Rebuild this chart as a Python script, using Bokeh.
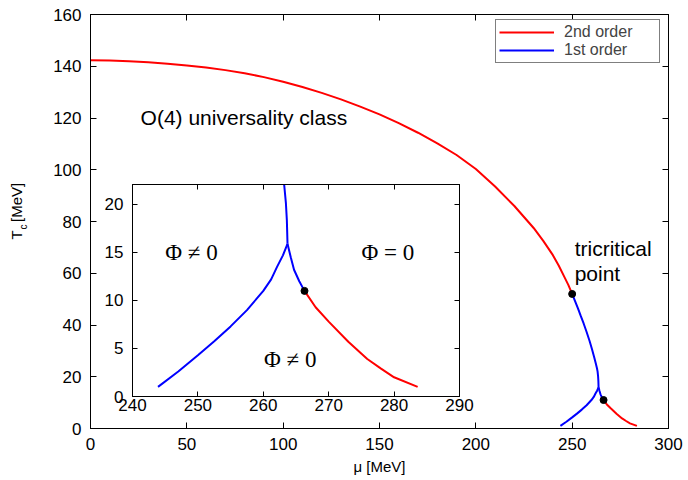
from bokeh.plotting import figure
from bokeh.models import (LinearAxis, FixedTicker, Legend, LegendItem, GridBox)
from bokeh.core.properties import value
from bokeh.embed import file_html
from bokeh.resources import INLINE

# ---------------- data ----------------
# 2nd-order line, high-T part (mu [MeV], T_c [MeV])
red_hi_mu = [0, 10, 20, 30, 40, 50, 60, 70, 80, 90, 100, 110, 120, 130, 140, 150, 160, 170, 180,
             190, 200, 210, 220, 230, 235, 240, 243, 246, 248, 250]
red_hi_T = [142.3, 142.2, 141.9, 141.5, 141.0, 140.3, 139.5, 138.5, 137.3, 135.8, 134.0, 132.0,
            129.7, 127.2, 124.4, 121.4, 118.0, 114.3, 110.2, 105.7, 100.3, 93.5, 86.0, 77.5,
            72.5, 67.0, 63.0, 58.5, 55.5, 52.0]

# 1st-order line from tricritical point down to the cusp
blue_up_mu = [250.0, 251.5, 253.0, 254.5, 256.0, 257.5, 259.0, 260.3, 261.4, 262.3, 262.9, 263.2,
              263.45, 263.6, 263.65, 263.7]
blue_up_T = [52.0, 49.2, 46.4, 43.4, 40.5, 37.3, 33.9, 30.6, 27.6, 25.0, 23.2, 22.0, 20.2, 18.4,
             17.2, 15.9]

# 1st-order branch from the cusp down to low T (left)
blue_lo_mu = [243.9, 247.0, 250.0, 252.5, 255.0, 257.5, 260.0, 261.2, 262.1, 263.0, 263.7]
blue_lo_T = [1.0, 2.6, 4.3, 5.75, 7.3, 9.0, 11.0, 12.2, 13.5, 14.7, 15.9]

# 1st-order branch from the cusp to the critical end point (right)
blue_r_mu = [263.7, 264.2, 264.7, 265.5, 266.3]
blue_r_T = [15.9, 14.5, 13.2, 12.0, 11.0]

# 2nd-order line, low-T part
red_lo_mu = [266.3, 268.0, 270.0, 273.0, 275.9, 278.0, 280.0, 283.6]
red_lo_T = [11.0, 9.3, 7.8, 5.7, 3.9, 2.9, 2.0, 1.0]

# critical points
crit_mu = [250.0, 266.3]
crit_T = [52.0, 11.0]

# ticks
x_ticks = [0, 50, 100, 150, 200, 250, 300]
y_ticks = [0, 20, 40, 60, 80, 100, 120, 140, 160]
ix_ticks = [240, 250, 260, 270, 280, 290]
iy_ticks = [0, 5, 10, 15, 20]

# annotations (text centre heights)
note_text = ["O(4) universality class", "tricritical", "point"]
note_mu = [26.0, 251.3, 251.3]
note_T = [120.2, 69.7, 59.9]

phase_text = ["Φ ≠ 0", "Φ = 0", "Φ ≠ 0"]
phase_mu = [245.0, 275.0, 260.1]
phase_T = [15.0, 15.0, 3.9]

legend_labels = ["2nd order", "1st order"]
x_title = "μ [MeV]"
y_title = ["T", "c", "[MeV]"]

RED = "#ff0000"
BLUE = "#0000ff"
SANS = "Liberation Sans"
SERIF = "Liberation Serif"
NBSP = "\u00a0"

# shared borders (GridBox aligns plot frames, so both plots use the same borders)
BL, BT, BR, BB = 90, 14, 20, 52


def style_axis(ax, ticks, font_size, show_labels=True, tick_len=6):
    ax.ticker = FixedTicker(ticks=ticks)
    ax.major_tick_in = tick_len
    ax.major_tick_out = 0
    ax.minor_tick_line_color = None
    ax.axis_line_color = "black"
    ax.major_tick_line_color = "black"
    ax.major_label_text_font = SANS
    if show_labels:
        ax.major_label_text_color = "black"
        ax.major_label_text_font_size = font_size
    else:
        ax.major_label_text_color = None
        ax.major_label_text_font_size = "1px"
        ax.major_label_standoff = 0


def style_title(ax, size, standoff):
    ax.axis_label_text_font = SANS
    ax.axis_label_text_font_style = "normal"
    ax.axis_label_text_color = "black"
    ax.axis_label_text_font_size = size
    ax.axis_label_standoff = standoff


# ---------------- main figure ----------------
p = figure(width=688, height=480, x_range=(0, 300), y_range=(0, 160),
           output_backend="svg", toolbar_location=None,
           min_border_left=BL, min_border_top=BT, min_border_right=BR, min_border_bottom=BB)
p.outline_line_color = "black"
p.outline_line_width = 1
p.xgrid.grid_line_color = None
p.ygrid.grid_line_color = None

style_axis(p.xaxis[0], x_ticks, "17px")
style_axis(p.yaxis[0], y_ticks, "17px")
p.xaxis[0].major_label_standoff = 9
p.yaxis[0].major_label_standoff = 9
p.xaxis[0].axis_label = x_title
style_title(p.xaxis[0], "15px", 5)

# y title: subscript "c" on the tick-label axis, "T ... [MeV]" on an outer axis
p.yaxis[0].axis_label = y_title[1] + NBSP * 4
style_title(p.yaxis[0], "10px", 21)
ytitle_ax = LinearAxis(ticker=FixedTicker(ticks=[]), axis_line_color=None,
                       major_tick_line_color=None, minor_tick_line_color=None,
                       major_label_standoff=0, major_tick_in=0, major_tick_out=0,
                       axis_label=NBSP * 5 + y_title[0] + NBSP * 2 + y_title[2])
style_title(ytitle_ax, "15px", -9)
p.add_layout(ytitle_ax, "left")

top_ax = LinearAxis()
style_axis(top_ax, x_ticks, "17px", show_labels=False)
p.add_layout(top_ax, "above")
right_ax = LinearAxis()
style_axis(right_ax, y_ticks, "17px", show_labels=False)
p.add_layout(right_ax, "right")

r_red = p.line(red_hi_mu, red_hi_T, line_color=RED, line_width=2)
p.line(red_lo_mu, red_lo_T, line_color=RED, line_width=2)
r_blue = p.line(blue_up_mu, blue_up_T, line_color=BLUE, line_width=2)
p.line(blue_lo_mu, blue_lo_T, line_color=BLUE, line_width=2)
p.line(blue_r_mu, blue_r_T, line_color=BLUE, line_width=2)
p.scatter(crit_mu, crit_T, size=7, color="black")

p.text(note_mu, note_T, text=note_text, text_font=value(SANS), text_font_size=value("21px"),
       text_baseline="middle", text_align="left", text_color="black")

legend = Legend(items=[LegendItem(label=legend_labels[0], renderers=[r_red]),
                       LegendItem(label=legend_labels[1], renderers=[r_blue])],
                location=(405, 364.7), padding=3, spacing=0, margin=0,
                glyph_width=55, glyph_height=16, label_height=16, label_width=92,
                label_standoff=10, label_text_font=SANS, label_text_font_size="16px",
                border_line_color="black", border_line_width=1, background_fill_alpha=1)
p.add_layout(legend)

# ---------------- inset ----------------
inset = figure(width=BL + 327 + BR, height=BT + 212 + BB, x_range=(240, 290), y_range=(0, 22.08),
               output_backend="svg", toolbar_location=None,
               min_border_left=BL, min_border_top=BT, min_border_right=BR, min_border_bottom=BB)
inset.outline_line_color = "black"
inset.xgrid.grid_line_color = None
inset.ygrid.grid_line_color = None
inset.border_fill_alpha = 0
inset.background_fill_color = "white"
style_axis(inset.xaxis[0], ix_ticks, "17px", tick_len=5)
style_axis(inset.yaxis[0], iy_ticks, "17px", tick_len=5)
inset.xaxis[0].major_label_standoff = 2
inset.yaxis[0].major_label_standoff = 9
itop = LinearAxis()
style_axis(itop, ix_ticks, "17px", show_labels=False, tick_len=5)
inset.add_layout(itop, "above")
iright = LinearAxis()
style_axis(iright, iy_ticks, "17px", show_labels=False, tick_len=5)
inset.add_layout(iright, "right")

inset.line(blue_up_mu, blue_up_T, line_color=BLUE, line_width=2)
inset.line(blue_lo_mu, blue_lo_T, line_color=BLUE, line_width=2)
inset.line(blue_r_mu, blue_r_T, line_color=BLUE, line_width=2)
inset.line(red_lo_mu, red_lo_T, line_color=RED, line_width=2)
inset.scatter(crit_mu, crit_T, size=7, color="black")
inset.text(phase_mu, phase_T, text=phase_text, text_font=value(SERIF), text_font_size=value("23px"),
           text_baseline="middle", text_align="left", text_color="black")
inset.margin = (170, 0, 0, 42)

grid = GridBox(children=[(p, 0, 0), (inset, 0, 0)])

open("out.html", "w").write(file_html(grid, INLINE))
